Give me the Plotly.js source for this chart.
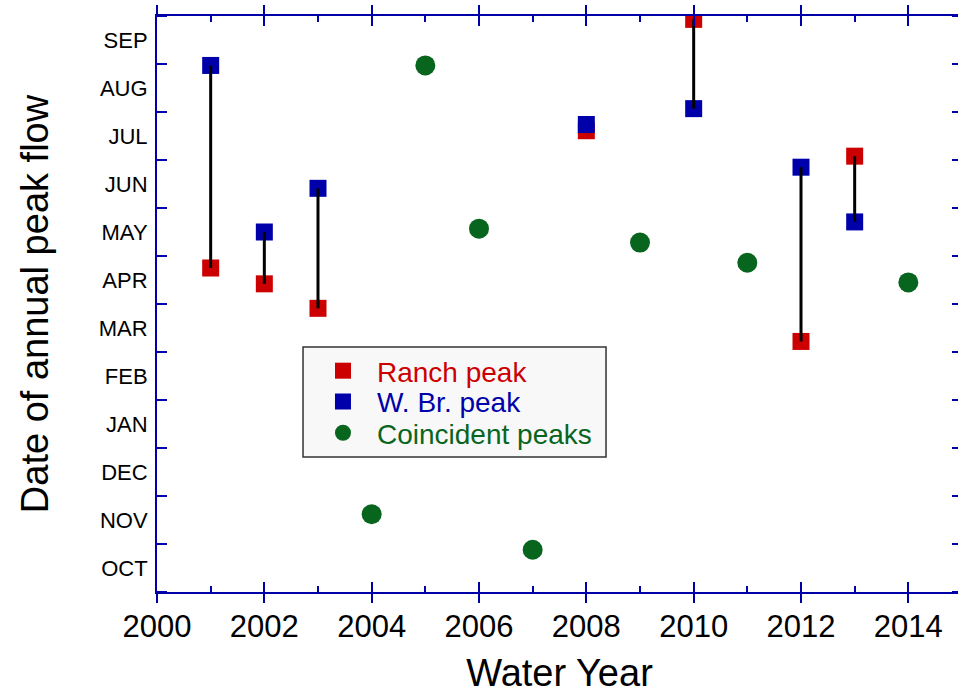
<!DOCTYPE html>
<html>
<head>
<meta charset="utf-8">
<script src="https://cdn.plot.ly/plotly-3.0.1.min.js"></script>
<style>
  html, body { margin: 0; padding: 0; overflow: hidden; background: #fff; }
  #chart { width: 962px; height: 694px; }
</style>
</head>
<body>
<div id="chart"></div>
<script>
// ---- data (months since Oct 1 of the water year) ----
var pairYears   = [2001, 2002, 2003, 2008, 2010, 2012, 2013];
var ranchPeak   = [6.75, 6.42, 5.91, 9.61, 11.93, 5.22, 9.08];
var wbrPeak     = [10.97, 7.50, 8.41, 9.74, 10.07, 8.85, 7.71];
var coincYears  = [2004, 2005, 2006, 2007, 2009, 2011, 2014];
var coincPeak   = [1.62, 10.97, 7.57, 0.88, 7.28, 6.86, 6.45];
var monthLabels = ['OCT','NOV','DEC','JAN','FEB','MAR','APR','MAY','JUN','JUL','AUG','SEP'];
var xTickLabels = ['2000','2002','2004','2006','2008','2010','2012','2014'];

var AXC = '#0000AA';
var RED = '#CC0000', BLUE = '#0000AA', GREEN = '#08651E';
var FONT = 'Arial, "Liberation Sans", sans-serif';

// connecting lines between the two peaks of the same year
var lx = [], ly = [];
for (var i = 0; i < pairYears.length; i++) {
  if (Math.abs(wbrPeak[i] - ranchPeak[i]) < 0.5) continue;
  lx.push(pairYears[i], pairYears[i], null);
  ly.push(wbrPeak[i], ranchPeak[i], null);
}

var labelPos = monthLabels.map(function (m, i) { return i + 0.5; });
var boundaries = [];
for (var k = 0; k <= monthLabels.length; k++) boundaries.push(k);
var xTickVals = xTickLabels.map(Number);

var traces = [
  { x: pairYears, y: ranchPeak, type: 'scatter', mode: 'markers', name: 'Ranch peak',
    marker: { symbol: 'square', size: 17, color: RED }, legend: 'legend', hoverinfo: 'x+y' },
  { x: pairYears, y: wbrPeak, type: 'scatter', mode: 'markers', name: 'W. Br. peak',
    marker: { symbol: 'square', size: 17, color: BLUE }, legend: 'legend2', hoverinfo: 'x+y' },
  { x: coincYears, y: coincPeak, type: 'scatter', mode: 'markers', name: 'Coincident peaks',
    marker: { symbol: 'circle', size: 20, color: GREEN }, legend: 'legend3', hoverinfo: 'x+y' },
  { x: lx, y: ly, type: 'scatter', mode: 'lines', showlegend: false, hoverinfo: 'skip',
    line: { color: '#000', width: 3 } },
  { x: [2000], y: [-5], type: 'scatter', mode: 'markers', xaxis: 'x2', yaxis: 'y',
    showlegend: false, hoverinfo: 'skip', marker: { opacity: 0 } }
];

function legendCfg(y, color) {
  return {
    x: 0.1888, y: y, xanchor: 'left', yanchor: 'middle',
    bgcolor: 'rgba(0,0,0,0)', borderwidth: 0, itemwidth: 58,
    font: { family: FONT, size: 28, color: color }
  };
}

var layout = {
  width: 962, height: 694,
  margin: { l: 157, r: 0, t: 16, b: 102 },
  paper_bgcolor: '#fff', plot_bgcolor: '#fff',
  showlegend: true,
  xaxis: {
    range: [2000, 2015], tickmode: 'array', tickvals: xTickVals, ticktext: xTickLabels,
    ticks: 'inside', ticklen: 10, tickwidth: 2, tickcolor: AXC,
    minor: { tickmode: 'linear', tick0: 2000, dtick: 1, ticks: 'inside', ticklen: 6, tickwidth: 2, tickcolor: AXC },
    showline: true, linecolor: AXC, linewidth: 2, mirror: 'allticks',
    showgrid: false, zeroline: false, ticklabelstandoff: 6,
    tickfont: { family: FONT, size: 31, color: '#000' },
    title: { text: 'Water Year', font: { family: FONT, size: 38, color: '#000' }, standoff: 18 }
  },
  xaxis2: {
    overlaying: 'x', anchor: 'y', range: [2000, 2015], tickmode: 'array', tickvals: xTickVals,
    ticks: 'outside', ticklen: 10, tickwidth: 2, tickcolor: AXC, showticklabels: false,
    showline: false, mirror: 'allticks', showgrid: false, zeroline: false
  },
  yaxis: {
    range: [0, 12], tickmode: 'array', tickvals: labelPos, ticktext: monthLabels, ticks: '',
    minor: { tickmode: 'array', tickvals: boundaries, ticks: 'inside', ticklen: 10, tickwidth: 2, tickcolor: AXC },
    showline: true, linecolor: AXC, linewidth: 2, mirror: 'allticks',
    showgrid: false, zeroline: false, ticklabelstandoff: 3,
    tickfont: { family: FONT, size: 22, color: '#000' },
    title: { text: 'Date of annual peak flow', font: { family: FONT, size: 38, color: '#000' }, standoff: 38 }
  },
  legend: legendCfg(0.3837, RED),
  legend2: legendCfg(0.3304, BLUE),
  legend3: legendCfg(0.2760, GREEN),
  shapes: [{
    type: 'rect', xref: 'paper', yref: 'paper', layer: 'below',
    x0: 0.1814, x1: 0.5578, y0: 0.2344, y1: 0.4253,
    fillcolor: '#F8F8F8', line: { color: '#333', width: 1.5 }
  }]
};

Plotly.newPlot('chart', traces, layout, { displayModeBar: false, responsive: false });
</script>
</body>
</html>
